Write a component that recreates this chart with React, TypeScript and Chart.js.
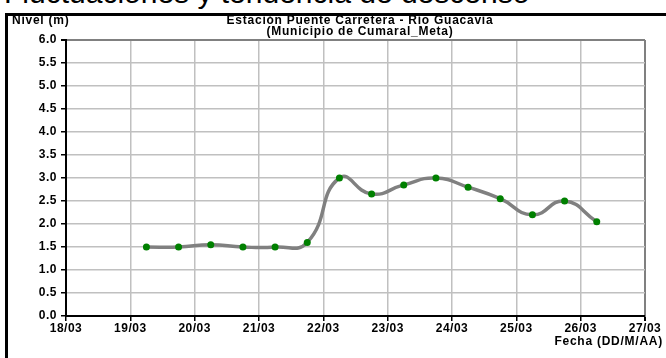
import React, { useEffect, useRef } from "react";
import { Chart, registerables } from "chart.js";

Chart.register(...registerables);

// Day labels (x axis ticks, 0 = 18/03)
const dayLabels = ["18/03", "19/03", "20/03", "21/03", "22/03", "23/03", "24/03", "25/03", "26/03", "27/03"];
// Sample times, in days after 18/03 00:00
const sampleDays = [1.25, 1.75, 2.25, 2.75, 3.25, 3.75, 4.25, 4.75, 5.25, 5.75, 6.25, 6.75, 7.25, 7.75, 8.25];
// Water level (m)
const levels = [1.5, 1.5, 1.55, 1.5, 1.5, 1.6, 3.0, 2.65, 2.85, 3.0, 2.8, 2.55, 2.2, 2.5, 2.05];

const titleLine1 = "Estación Puente Carretera - Río Guacavia";
const titleLine2 = "(Municipio de Cumaral_Meta)";
const yTitle = "Nivel (m)";
const xTitle = "Fecha (DD/M/AA)";
const cutHeading = "Fluctuaciones y tendencia de descenso";

const FONT = "'Liberation Sans', Arial, sans-serif";

const spacingPlugin = {
  id: "spacing",
  beforeDraw(chart: any) {
    chart.ctx.letterSpacing = "0.5px";
  },
};

export default function App() {
  const ref = useRef<HTMLCanvasElement | null>(null);

  useEffect(() => {
    if (!ref.current) return;
    const tickFont = { family: FONT, size: 12, weight: "bold" as const };
    const chart = new Chart(ref.current, {
      type: "line",
      data: {
        datasets: [
          {
            data: sampleDays.map((d, i) => ({ x: d, y: levels[i] })),
            borderColor: "#808080",
            borderWidth: 3.5,
            tension: 0.5,
            pointRadius: 3.5,
            pointBackgroundColor: "#008000",
            pointBorderColor: "#008000",
            pointBorderWidth: 0,
          },
        ],
      },
      plugins: [spacingPlugin],
      options: {
        responsive: false,
        animation: false,
        plugins: { legend: { display: false }, tooltip: { enabled: false } },
        layout: { padding: { left: 0, top: 40, right: 21, bottom: 22 } },
        scales: {
          x: {
            type: "linear",
            min: 0,
            max: 9,
            afterFit: (s: any) => {
              s.height = 20;
            },
            ticks: {
              stepSize: 1,
              autoSkip: false,
              maxRotation: 0,
              padding: 0,
              color: "#000",
              font: tickFont,
              callback: (v: any) => dayLabels[Math.round(Number(v))] ?? "",
            },
            grid: {
              color: (ctx: any) => (ctx.tick && ctx.tick.value === 9 ? "#808080" : "#c0c0c0"),
              lineWidth: (ctx: any) => (ctx.tick && ctx.tick.value === 9 ? 2 : 1.5),
              tickColor: "#000",
              tickLength: 5,
            },
            border: { color: "#000", width: 2 },
          },
          y: {
            min: 0,
            max: 6,
            afterFit: (s: any) => {
              s.width = 66;
            },
            ticks: {
              stepSize: 0.5,
              padding: 4,
              color: "#000",
              font: tickFont,
              callback: (v: any) => Number(v).toFixed(1),
            },
            grid: {
              color: (ctx: any) => (ctx.tick && ctx.tick.value === 6 ? "#808080" : "#c0c0c0"),
              lineWidth: (ctx: any) => (ctx.tick && ctx.tick.value === 6 ? 2 : 1.5),
              tickColor: "#000",
              tickLength: 5,
            },
            border: { color: "#000", width: 2 },
          },
        },
      },
    });
    return () => chart.destroy();
  }, []);

  const bold: React.CSSProperties = {
    position: "absolute",
    fontFamily: FONT,
    fontWeight: "bold",
    fontSize: 12,
    letterSpacing: "0.75px",
    color: "#000",
    whiteSpace: "nowrap",
    lineHeight: "11px",
  };

  return (
    <div style={{ position: "absolute", left: 0, top: 0, width: 666, height: 358, background: "#fff", overflow: "hidden" }}>
      <div style={{ position: "absolute", left: 0, top: 0, width: 666, height: 13, overflow: "hidden" }}>
        <div style={{ position: "absolute", left: 4, top: -22, fontFamily: FONT, fontSize: 30, lineHeight: "30px", whiteSpace: "nowrap", color: "#000" }}>
          {cutHeading}
        </div>
      </div>
      <div style={{ position: "absolute", left: 5, top: 13, width: 666, height: 400, borderLeft: "3px solid #000", borderTop: "3px solid #000" }} />
      <canvas ref={ref} width={666} height={358} style={{ position: "absolute", left: 0, top: 0, width: 666, height: 358 }} />
      <div style={{ ...bold, left: 12, top: 15 }}>{yTitle}</div>
      <div style={{ ...bold, left: 160, width: 400, top: 15, textAlign: "center" }}>
        {titleLine1}
        <br />
        {titleLine2}
      </div>
      <div style={{ ...bold, right: 3, top: 336 }}>{xTitle}</div>
    </div>
  );
}
